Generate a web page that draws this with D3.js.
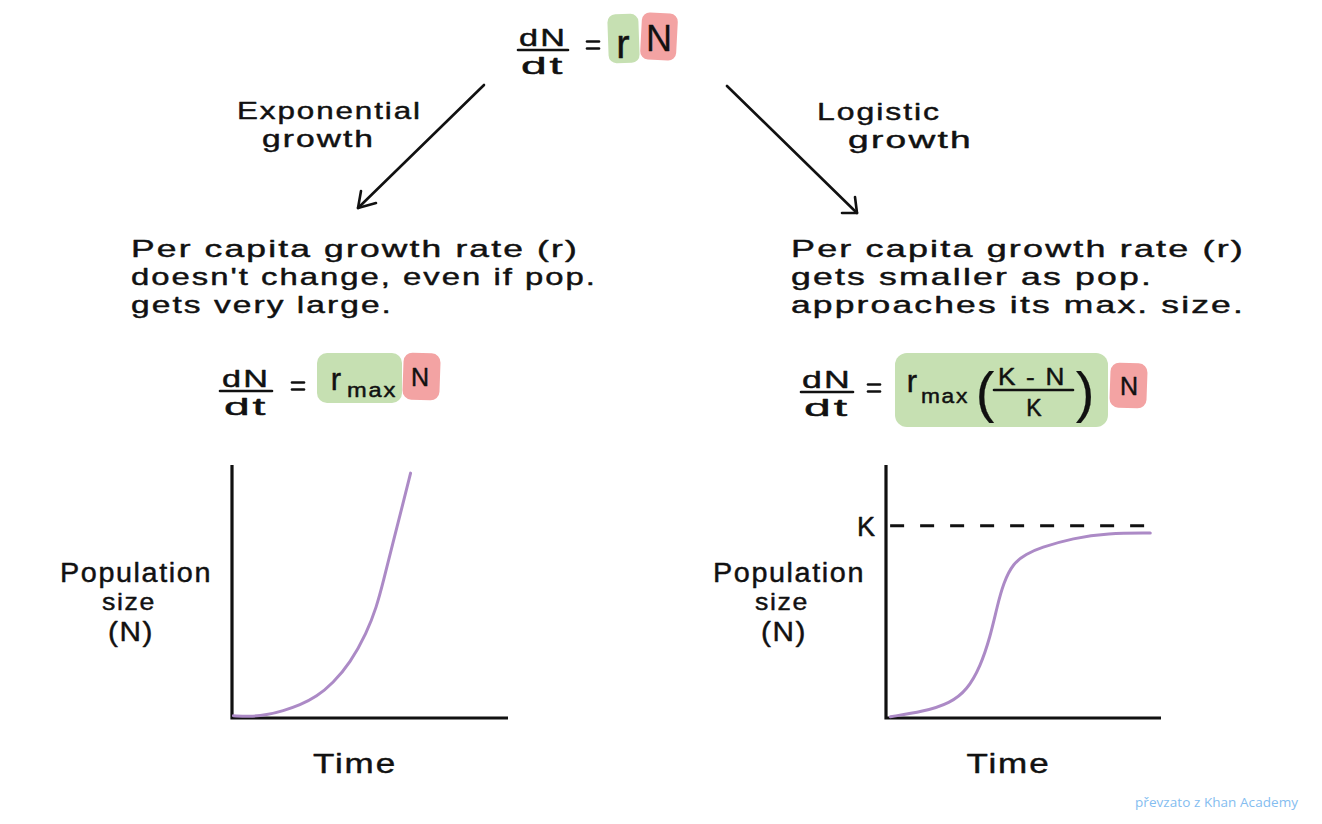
<!DOCTYPE html>
<html><head><meta charset="utf-8">
<script src="https://cdn.jsdelivr.net/npm/d3@7"></script>
<style>body{margin:0;background:#fff;overflow:hidden}</style>
</head><body>
<script>
// ---- data (time units 0..10, population units 0..100) ----
const expTime = [0.05, 0.65, 1.26, 1.85, 2.46, 3.07, 3.66, 4.28, 4.88, 5.24, 5.47, 5.83, 6.2, 6.47];
const expPop  = [0.9, 0.5, 1.2, 2.8, 5.1, 8.4, 13.8, 21.7, 33.6, 44, 53.4, 69.2, 85, 96.8];
const logTime = [0.16, 1.36, 2.34, 2.95, 3.43, 3.79, 4.04, 4.27, 4.63, 5.1, 5.6, 6.81, 8.05, 9.61];
const logPop  = [0.5, 2.5, 5.9, 11.1, 20.3, 32.1, 44, 53.4, 61.3, 64.8, 67.3, 71.1, 73.1, 73.1];
const carryingCapacity = 76;
const timeDomain = [0, 10];
const popDomain = [0, 100];
const titleExp = ["Exponential", "growth"];
const titleLog = ["Logistic", "growth"];
const textExp = ["Per capita growth rate (r)", "doesn't change, even if pop.", "gets very large."];
const textLog = ["Per capita growth rate (r)", "gets smaller as pop.", "approaches its max. size."];
const yLabel = ["Population", "size", "(N)"];
const xLabel = "Time";
const kLabel = "K";
const credit = "převzato z Khan Academy";

const FONT = "'Liberation Sans', Arial, sans-serif";
const INK = "#111";
const GREEN = "#c6e0b2";
const RED = "#f3a3a3";
const PURPLE = "#ac8ac6";

const svg = d3.select("body").append("svg").attr("width", 1322).attr("height", 824);

// one <text> element per piece; hand-lettered look via a thin outline
function t(x, y, s, size, opts = {}) {
  const e = svg.append("text").attr("x", x).attr("y", y).text(s)
    .attr("font-family", FONT).attr("font-size", size)
    .attr("fill", opts.fill || INK)
    .attr("text-anchor", opts.anchor || "start");
  e.attr("stroke", INK).attr("stroke-width", opts.sw == null ? 0.45 : opts.sw)
    .attr("stroke-linejoin", "round").attr("letter-spacing", opts.ls == null ? 1.5 : opts.ls);
  if (opts.len) e.attr("textLength", opts.len).attr("lengthAdjust", "spacingAndGlyphs");
  return e;
}
function box(x, y, w, h, fill, rot, rx) {
  svg.append("rect").attr("x", x).attr("y", y).attr("width", w).attr("height", h)
    .attr("rx", rx || 9).attr("fill", fill)
    .attr("transform", `rotate(${rot || 0},${x + w / 2},${y + h / 2})`);
}
function hline(x1, x2, y) {
  svg.append("line").attr("x1", x1).attr("x2", x2).attr("y1", y).attr("y2", y)
    .attr("stroke", INK).attr("stroke-width", 2.6).attr("stroke-linecap", "round");
}
function frac(cx, lineY, top, bot, halfW, len) {
  t(cx, lineY - 4, top, 24, {anchor: "middle", len});
  t(cx, lineY + 24, bot, 24, {anchor: "middle", len: len * 0.92});
  hline(cx - halfW, cx + halfW, lineY);
}
function eqSign(cx, cy) {
  [-3.5, 3.5].forEach(d => hline(cx - 6, cx + 6, cy + d));
}
function arrow(x1, y1, x2, y2, w1, w2) {
  svg.append("line").attr("x1", x1).attr("y1", y1).attr("x2", x2).attr("y2", y2)
    .attr("stroke", INK).attr("stroke-width", 2.6).attr("stroke-linecap", "round");
  svg.append("path").attr("d", `M${w1[0]},${w1[1]} L${x2},${y2} L${w2[0]},${w2[1]}`)
    .attr("fill", "none").attr("stroke", INK).attr("stroke-width", 2.6)
    .attr("stroke-linecap", "round").attr("stroke-linejoin", "round");
}

// ---- top equation ----
frac(543, 50, "dN", "dt", 25, 48);
eqSign(593, 45);
box(608, 14, 31, 49, GREEN, -2, 8);
box(641, 13, 36, 47, RED, 3, 8);
t(623, 58, "r", 40, {anchor: "middle", ls: 0});
t(659, 51, "N", 36, {anchor: "middle", ls: 0, sw: 0.3});

// ---- arrows + titles ----
arrow(484, 85, 358, 208, [361, 191], [376, 203]);
arrow(727, 86, 857, 213, [842, 213], [855, 197]);
t(237, 119, titleExp[0], 24.5, {len: 185});
t(262, 147, titleExp[1], 24.5, {len: 113});
t(817, 120, titleLog[0], 24.5, {len: 124});
t(848, 148, titleLog[1], 24.5, {len: 125});

// ---- description text ----
textExp.forEach((s, i) => t(131, 257 + i * 28, s, 24.5, {len: [448, 466, 262][i]}));
textLog.forEach((s, i) => t(791, 257 + i * 28, s, 24.5, {len: [454, 362, 454][i]}));

// ---- left equation ----
frac(246, 391, "dN", "dt", 26, 48);
eqSign(298, 386);
box(317, 353, 85, 50, GREEN, 0, 10);
box(403, 353, 37, 47, RED, 2, 9);
t(336, 390, "r", 31, {anchor: "middle", ls: 0});
t(372, 397, "max", 20, {anchor: "middle", len: 50});
t(420, 386, "N", 25, {anchor: "middle", ls: 0});

// ---- right equation ----
frac(827, 392, "dN", "dt", 26, 50);
eqSign(874, 388);
box(895, 353, 213, 74, GREEN, 0, 12);
box(1110, 363, 37, 45, RED, 2, 9);
t(912, 392, "r", 31, {anchor: "middle", ls: 0});
t(945, 403, "max", 20, {anchor: "middle", len: 48});
t(985, 411, "(", 56, {anchor: "middle", ls: 0, sw: 0.2});
t(1085, 411, ")", 56, {anchor: "middle", ls: 0, sw: 0.2});
t(1032, 385, "K - N", 23, {anchor: "middle", len: 68});
t(1034, 416, "K", 23, {anchor: "middle", ls: 0});
hline(994, 1073, 390);
t(1129, 395, "N", 25, {anchor: "middle", ls: 0});

// ---- charts ----
function chart(x0, x1, times, pops, withK, yLabCx) {
  const x = d3.scaleLinear().domain(timeDomain).range([x0, x1]);
  const y = d3.scaleLinear().domain(popDomain).range([718, 465]);
  const g = svg.append("g");
  g.append("path")
    .attr("d", `M${x(0)},${y(popDomain[1])} L${x(0)},${y(0)} L${x(timeDomain[1])},${y(0)}`)
    .attr("fill", "none").attr("stroke", INK).attr("stroke-width", 3.2);
  if (withK) {
    g.append("line").attr("x1", x(0.15)).attr("x2", x(9.8))
      .attr("y1", y(carryingCapacity)).attr("y2", y(carryingCapacity))
      .attr("stroke", INK).attr("stroke-width", 3).attr("stroke-dasharray", "14,16");
    t(x(0) - 20, y(carryingCapacity) + 10, kLabel, 27, {anchor: "middle", ls: 0});
  }
  const line = d3.line().x((d, i) => x(times[i])).y(d => y(d)).curve(d3.curveBasis);
  g.append("path").attr("d", line(pops)).attr("fill", "none")
    .attr("stroke", PURPLE).attr("stroke-width", 3).attr("stroke-linecap", "round");
  t(yLabCx, 582, yLabel[0], 27, {anchor: "middle", len: 152});
  t(yLabCx - 7, 610, yLabel[1], 24.5, {anchor: "middle", len: 54});
  t(yLabCx - 5, 641, yLabel[2], 28, {anchor: "middle", len: 46});
  t((x0 + x1) / 2 - 15, 773, xLabel, 28, {anchor: "middle", len: 84});
}
chart(232, 508, expTime, expPop, false, 136);
chart(886, 1161, logTime, logPop, true, 789);

svg.append("text").attr("x", 1298).attr("y", 807).text(credit)
  .attr("font-family", "'Open Sans', sans-serif").attr("font-size", 13.5)
  .attr("fill", "#84bdf0").attr("text-anchor", "end").attr("textLength", 163);
</script>
</body></html>
